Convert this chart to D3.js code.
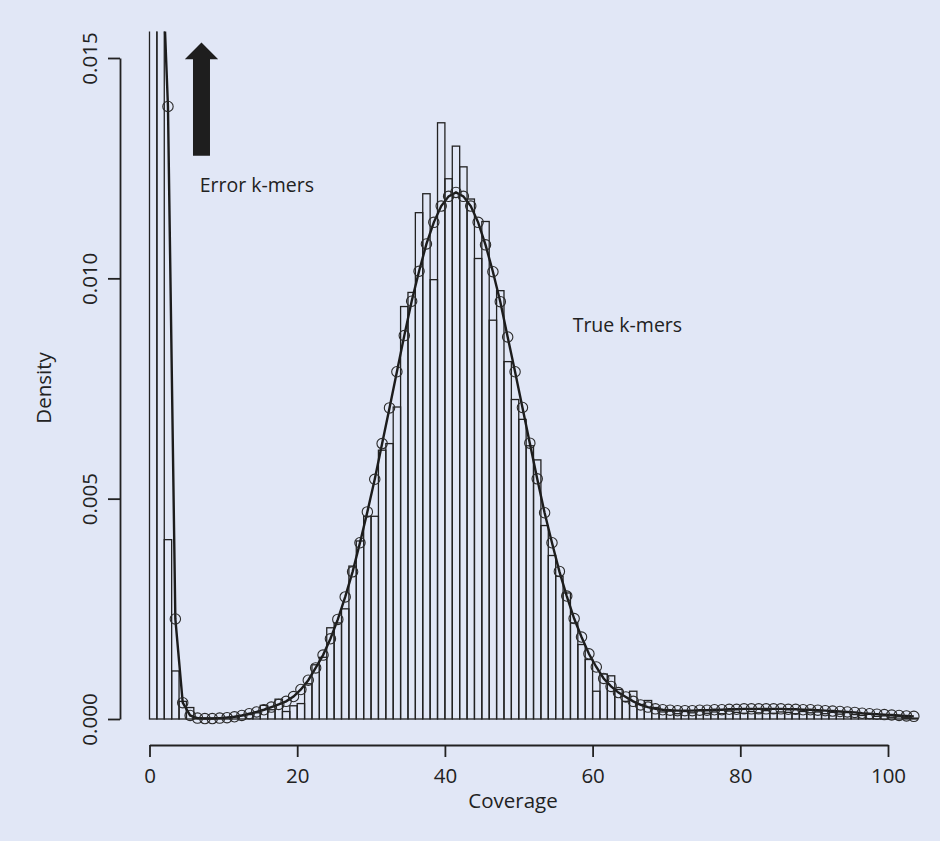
<!DOCTYPE html>
<html>
<head>
<meta charset="utf-8">
<script src="https://cdn.jsdelivr.net/npm/d3@7"></script>
<style>
  html, body { margin: 0; padding: 0; background: #e1e7f6; }
  svg { display: block; }
  text { font-family: "Open Sans", "Noto Sans", sans-serif; fill: #222; }
</style>
</head>
<body>
<svg id="chart" width="940" height="841"></svg>
<script>
// ---- data ----
// histogram bars: bar i covers coverage [i, i+1]
const barDensity = [
  0.04, 0.02, 0.00407, 0.00109, 0.00040, 0.00026, 0.00003, 0.00002, 0.00002, 0.00003,
  0.00004, 0.00005, 0.00008, 0.00010, 0.00014, 0.00031, 0.00021, 0.00045, 0.00017, 0.00030,
  0.00035, 0.00080, 0.00123, 0.00140, 0.00207, 0.00218, 0.00250, 0.00347, 0.00404, 0.00460,
  0.00460, 0.00610, 0.00625, 0.00708, 0.00936, 0.00968, 0.01149, 0.01192, 0.00997, 0.01353,
  0.01226, 0.01300, 0.01253, 0.01180, 0.01045, 0.01129, 0.00905, 0.00972, 0.00811, 0.00725,
  0.00680, 0.00620, 0.00588, 0.00439, 0.00371, 0.00324, 0.00286, 0.00218, 0.00169, 0.00135,
  0.00063, 0.00102, 0.00098, 0.00067, 0.00040, 0.00063, 0.00033, 0.00042, 0.00026, 0.00016,
  0.00018, 0.00012, 0.00017, 0.00014, 0.00019, 0.00013, 0.00016, 0.00012, 0.00018, 0.00015,
  0.00013, 0.00017, 0.00014, 0.00019, 0.00013, 0.00016, 0.00015, 0.00012, 0.00017, 0.00014,
  0.00016, 0.00012, 0.00015, 0.00011, 0.00016, 0.00010, 0.00008, 0.00011, 0.00006, 0.00007,
  0.00004, 0.00005, 0.00003, 0.00002
];
// fitted model, evaluated at bin mid-points 0.5, 1.5, ...
const fitDensity = [
  0.03, 0.0182, 0.0139, 0.00227, 0.00037, 0.00008, 0.00002, 0.00001, 0.00001, 0.00002,
  0.00003, 0.00005, 0.00008, 0.00012, 0.00016, 0.00021, 0.00027, 0.00033, 0.00040, 0.00051,
  0.00067, 0.00088, 0.00116, 0.00145, 0.00182, 0.00226, 0.00277, 0.00334, 0.00400, 0.00470,
  0.00544, 0.00625, 0.00706, 0.00788, 0.00870, 0.00948, 0.01016, 0.01078, 0.01127, 0.01164,
  0.01186, 0.01195, 0.01186, 0.01164, 0.01127, 0.01076, 0.01015, 0.00947, 0.00867, 0.00788,
  0.00707, 0.00626, 0.00545, 0.00468, 0.00400, 0.00335, 0.00279, 0.00228, 0.00186, 0.00148,
  0.00118, 0.00092, 0.00074, 0.00060, 0.00050, 0.00040, 0.00032, 0.00027, 0.00023, 0.00021,
  0.00020, 0.00019, 0.00019, 0.00019, 0.00020, 0.00020, 0.00021, 0.00021, 0.00022, 0.00022,
  0.00023, 0.00023, 0.00023, 0.00023, 0.00023, 0.00023, 0.00022, 0.00022, 0.00021, 0.00021,
  0.00020, 0.00019, 0.00018, 0.00017, 0.00016, 0.00015, 0.00013, 0.00012, 0.00011, 0.00010,
  0.00009, 0.00008, 0.00007, 0.00006
];
const xTicks = [0, 20, 40, 60, 80, 100];
const yTicks = [0, 0.005, 0.010, 0.015];
const xLabel = "Coverage";
const yLabel = "Density";
const annotations = [
  { text: "Error k-mers", cov: 6.8, dens: 0.01195 },
  { text: "True k-mers", cov: 57.3, dens: 0.00878 }
];

// ---- drawing ----
const svg = d3.select("#chart");
svg.append("rect").attr("width", 940).attr("height", 841).attr("fill", "#e1e7f6");

const x = d3.scaleLinear().domain([0, 100]).range([149.5, 888]);
const y = d3.scaleLinear().domain([0, 0.015]).range([719, 58]);
const yTop = y(0.0156);
const FS = "20.5px";

svg.append("clipPath").attr("id", "plotclip")
  .append("rect").attr("x", 0).attr("y", yTop).attr("width", 940).attr("height", 841 - yTop);

const plot = svg.append("g").attr("clip-path", "url(#plotclip)");

// histogram bars
plot.selectAll("rect.bar").data(barDensity).join("rect")
  .attr("class", "bar")
  .attr("x", (d, i) => x(i))
  .attr("width", (d, i) => x(i + 1) - x(i))
  .attr("y", d => y(d))
  .attr("height", d => y(0) - y(d))
  .attr("fill", "none")
  .attr("stroke", "#222")
  .attr("stroke-width", 1.3);

// fitted line
const pts = fitDensity.map((d, i) => [i + 0.5, d]);
plot.append("path")
  .datum(pts)
  .attr("d", d3.line().x(d => x(d[0])).y(d => y(d[1])))
  .attr("fill", "none")
  .attr("stroke", "#1c1c1c")
  .attr("stroke-width", 2.4);

plot.selectAll("circle.pt").data(pts).join("circle")
  .attr("class", "pt")
  .attr("cx", d => x(d[0]))
  .attr("cy", d => y(d[1]))
  .attr("r", 5.2)
  .attr("fill", "none")
  .attr("stroke", "#2a2a2a")
  .attr("stroke-width", 1.1);

// y axis
const yAxis = svg.append("g").attr("transform", "translate(120,0)")
  .call(d3.axisLeft(y).tickValues(yTicks).tickFormat(d3.format(".3f")).tickSize(12).tickSizeOuter(0));
yAxis.select(".domain").attr("stroke", "#222").attr("stroke-width", 1.8);
yAxis.selectAll(".tick line").attr("stroke", "#222").attr("stroke-width", 1.8);
yAxis.selectAll(".tick text")
  .attr("transform", "rotate(-90)")
  .attr("x", 0).attr("y", -23).attr("dy", 0)
  .attr("text-anchor", "middle")
  .style("font-size", FS)
  .style("font-family", "'Open Sans', sans-serif")
  .attr("fill", "#222");

// x axis
const xAxis = svg.append("g").attr("transform", "translate(0,745)")
  .call(d3.axisBottom(x).tickValues(xTicks).tickFormat(d3.format("d")).tickSize(12).tickSizeOuter(0));
xAxis.select(".domain").attr("stroke", "#222").attr("stroke-width", 1.8);
xAxis.selectAll(".tick line").attr("stroke", "#222").attr("stroke-width", 1.8);
xAxis.selectAll(".tick text")
  .attr("y", 38).attr("dy", 0)
  .style("font-size", FS)
  .style("font-family", "'Open Sans', sans-serif")
  .attr("fill", "#222");

// axis titles
svg.append("text").attr("x", 513).attr("y", 808).attr("text-anchor", "middle")
  .style("font-size", FS).text(xLabel);
svg.append("text").attr("transform", "translate(51,388) rotate(-90)").attr("text-anchor", "middle")
  .style("font-size", FS).text(yLabel);

// annotations
svg.selectAll("text.anno").data(annotations).join("text")
  .attr("class", "anno")
  .attr("x", d => x(d.cov)).attr("y", d => y(d.dens))
  .style("font-size", "19.5px").text(d => d.text);

// arrow pointing up (error k-mers beyond the visible range)
const ax = 7.04; // coverage position of the arrow centre
const arrowPath = d3.path();
const cx = x(ax);
arrowPath.moveTo(cx, y(0.01535));
arrowPath.lineTo(cx + 16.7, y(0.01497));
arrowPath.lineTo(cx + 8.5, y(0.01497));
arrowPath.lineTo(cx + 8.5, y(0.01278));
arrowPath.lineTo(cx - 8.5, y(0.01278));
arrowPath.lineTo(cx - 8.5, y(0.01497));
arrowPath.lineTo(cx - 16.7, y(0.01497));
arrowPath.closePath();
svg.append("path").attr("d", arrowPath.toString()).attr("fill", "#1e1e1e");
</script>
</body>
</html>
